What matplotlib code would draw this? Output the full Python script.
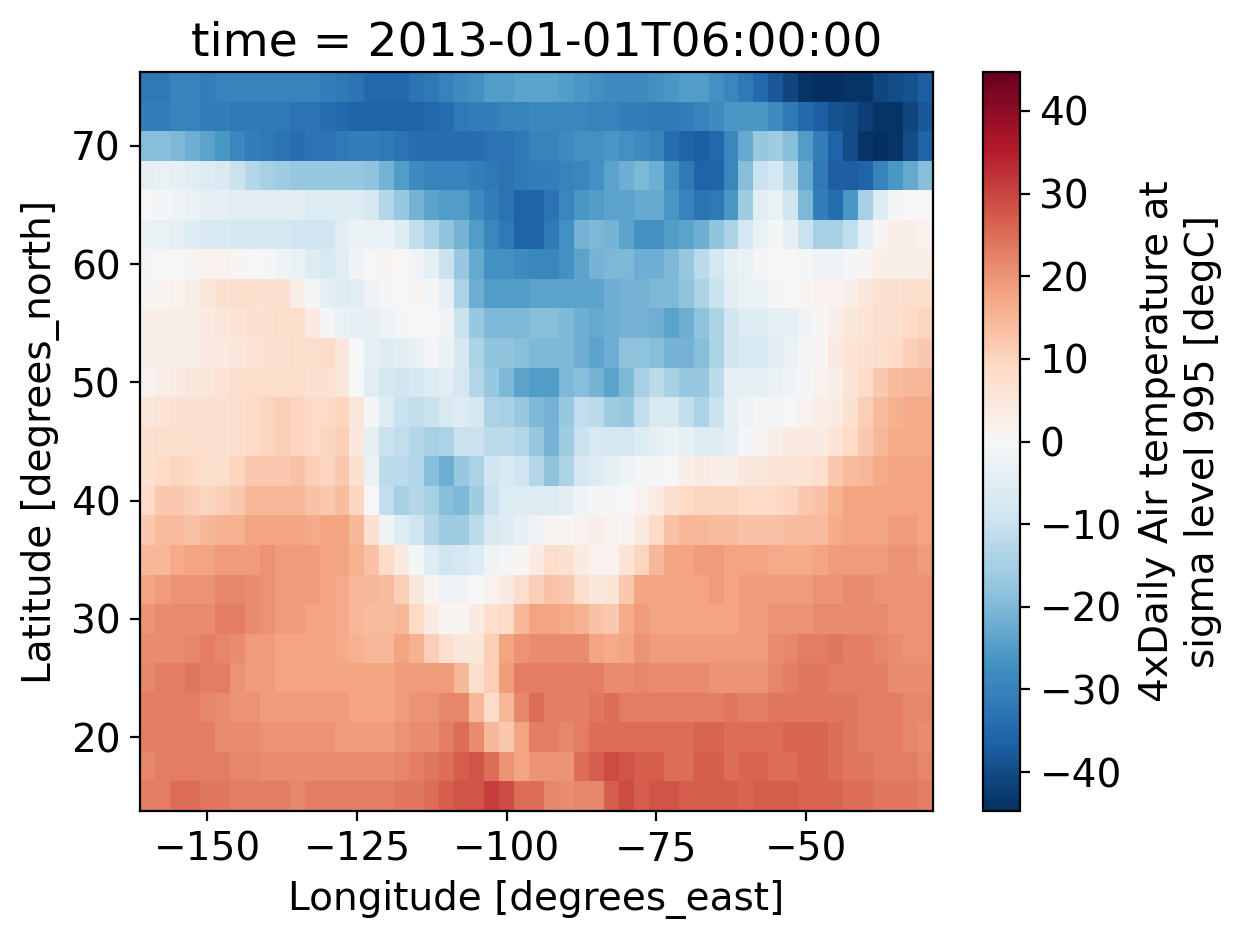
import numpy as np
import matplotlib
matplotlib.use("Agg")
import matplotlib.pyplot as plt

plt.rcParams['font.size'] = 14.05

lon = [-160 + 2.5 * i for i in range(53)]
lat = [75 - 2.5 * i for i in range(25)]
title = "time = 2013-01-01T06:00:00"
xlabel = "Longitude [degrees_east]"
ylabel = "Latitude [degrees_north]"
cbar_label = "4xDaily Air temperature at\nsigma level 995 [degC]"
xticks = [-150, -125, -100, -75, -50]
yticks = [20, 30, 40, 50, 60, 70]
cticks = [-40, -30, -20, -10, 0, 10, 20, 30, 40]
color_limit = 44.7

air = [
 [-32,-32,-30,-30,-31,-30,-30,-30,-30,-30,-30,-30,-31,-32,-33,-35,-35,-35,-33,-32,-30,-28,-27,-25,-25,-24, -24,-24,-25,-26,-27,-28,-28,-28,-27,-26,-25,-25,-27,-29,-32,-35,-38,-41,-44,-45,-45,-44,-44,-41,-40,-39,-37],
 [-31,-31,-30,-30,-31,-31,-32,-32,-32,-32,-33,-33,-34,-35,-36,-36,-36,-36,-36,-35,-34,-32,-31,-31,-30,-30, -29,-29,-29,-29,-30,-30,-31,-31,-32,-32,-31,-30,-28,-26,-26,-26,-28,-32,-35,-37,-39,-40,-42,-44,-44,-41,-38],
 [-19,-19,-20,-22,-24,-26,-29,-31,-32,-33,-34,-33,-33,-32,-31,-31,-32,-33,-34,-34,-34,-34,-34,-33,-33,-32, -30,-30,-28,-27,-27,-26,-27,-28,-30,-34,-36,-37,-35,-29,-23,-17,-16,-19,-25,-31,-36,-40,-44,-45,-44,-40,-36],
 [-4,-3,-4,-5,-6,-7,-10,-13,-15,-16,-17,-17,-17,-17,-17,-18,-21,-25,-28,-30,-30,-30,-31,-32,-33,-32, -31,-31,-30,-29,-27,-24,-22,-20,-22,-27,-32,-36,-36,-29,-19,-10,-8,-13,-23,-32,-37,-37,-36,-30,-26,-23,-19],
 [0,-1,-2,-3,-4,-4,-5,-5,-5,-5,-5,-6,-6,-6,-6,-8,-13,-17,-21,-24,-25,-25,-28,-31,-33,-36, -36,-33,-29,-26,-25,-24,-24,-23,-23,-26,-30,-33,-32,-26,-16,-5,-3,-9,-20,-31,-34,-26,-15,-6,-1,0,0],
 [-3,-3,-4,-6,-7,-7,-8,-8,-8,-8,-9,-9,-9,-5,-3,-3,-3,-6,-11,-14,-18,-21,-25,-29,-32,-36, -36,-32,-27,-21,-20,-21,-24,-27,-27,-25,-24,-22,-18,-14,-8,-3,-1,-4,-10,-15,-15,-11,-4,1,3,3,2],
 [-1,0,0,1,2,2,1,0,-1,-2,-3,-6,-7,-5,-2,0,1,0,-2,-4,-10,-17,-23,-27,-27,-28, -29,-29,-27,-24,-21,-20,-20,-22,-22,-20,-17,-12,-8,-4,-3,-1,0,0,-1,-2,-2,-1,1,3,3,3,3],
 [1,1,2,3,5,7,8,8,7,7,3,-1,-4,-6,-5,-2,-1,0,1,-1,-4,-14,-22,-25,-25,-25, -24,-24,-24,-24,-24,-22,-21,-21,-20,-20,-18,-14,-10,-5,-3,-3,-1,0,1,2,2,3,5,7,7,8,8],
 [3,3,3,3,4,5,6,7,7,8,8,4,-1,-3,-4,-4,-2,-1,0,0,-2,-10,-17,-20,-20,-20, -19,-19,-20,-22,-23,-22,-21,-21,-22,-24,-22,-18,-14,-9,-6,-6,-4,-4,-2,1,3,5,6,7,8,9,10],
 [3,3,3,3,4,4,5,6,7,7,8,8,9,5,0,-4,-6,-5,-3,-1,-3,-8,-14,-18,-18,-19, -20,-20,-20,-22,-24,-22,-18,-18,-19,-21,-21,-19,-14,-9,-7,-7,-5,-3,-1,1,4,6,7,8,9,11,12],
 [2,3,4,5,5,6,8,8,8,8,8,7,7,5,0,-5,-8,-9,-8,-6,-5,-8,-13,-17,-20,-24, -25,-25,-20,-19,-21,-24,-20,-15,-12,-15,-17,-17,-12,-4,-4,-4,-3,-2,-1,2,3,6,9,12,14,15,15],
 [5,6,7,7,7,7,8,9,10,11,10,9,9,10,5,-1,-6,-10,-11,-10,-7,-6,-8,-14,-15,-17, -20,-21,-17,-11,-12,-16,-17,-11,-7,-7,-11,-14,-10,-4,-2,-1,-1,0,2,3,4,7,11,14,16,17,17],
 [7,8,8,8,7,7,8,9,10,11,10,9,10,11,5,-4,-10,-11,-13,-15,-14,-10,-10,-12,-12,-13, -17,-21,-16,-10,-7,-8,-8,-6,-4,-3,-4,-6,-6,-4,-1,1,3,4,4,4,6,9,12,15,17,17,17],
 [7,9,10,9,8,8,10,12,12,12,13,11,10,12,7,-3,-12,-12,-13,-19,-22,-17,-14,-9,-7,-9, -13,-18,-14,-8,-6,-4,-2,-1,-1,0,3,4,3,3,5,5,6,6,6,8,12,14,15,17,18,18,18],
 [9,12,12,11,10,11,12,15,15,15,15,13,12,14,10,0,-11,-15,-13,-15,-19,-20,-16,-10,-6,-6, -6,-6,-5,-2,-1,-1,0,2,4,7,9,10,10,10,9,9,9,10,12,13,16,18,18,18,18,18,18],
 [12,14,14,13,15,16,16,18,18,18,18,17,18,18,15,7,-2,-6,-9,-13,-16,-16,-12,-7,-6,-4, -2,1,1,2,3,2,1,4,9,13,15,15,14,14,13,13,13,14,14,14,17,18,18,18,19,19,18],
 [15,15,17,18,18,19,19,19,20,19,19,19,18,18,16,13,9,4,-1,-6,-9,-8,-6,-2,-1,1, 4,8,7,4,2,2,6,10,15,18,18,19,19,18,18,18,17,17,17,18,19,19,19,19,20,20,19],
 [18,19,20,20,20,22,22,21,20,19,19,19,18,17,15,15,14,11,5,1,-2,-2,0,2,4,8, 11,13,12,8,5,6,12,18,18,18,18,18,19,18,19,19,19,19,19,20,20,21,21,20,20,20,20],
 [20,21,21,21,21,23,23,21,20,19,19,18,18,17,15,14,14,15,9,4,1,1,4,8,9,15, 18,18,17,16,13,12,17,19,18,18,18,18,18,18,19,19,20,20,20,21,21,21,21,21,20,20,20],
 [21,21,21,22,23,22,21,19,19,18,18,18,18,17,16,15,15,18,16,11,7,5,5,11,18,20, 21,21,21,21,18,17,18,20,19,19,19,19,19,19,19,19,21,22,23,23,24,23,23,22,21,20,20],
 [22,23,23,24,23,23,20,19,19,18,18,18,18,18,18,18,18,19,19,19,19,15,8,11,19,23, 23,23,23,23,23,21,21,22,21,21,21,21,20,20,20,20,22,23,24,24,23,23,23,23,21,21,21],
 [23,23,23,23,22,21,20,20,19,19,19,19,19,19,18,18,18,19,20,20,22,22,15,9,15,22, 25,23,23,23,24,25,23,23,23,23,23,23,23,24,23,23,24,24,24,24,24,24,23,23,23,22,22],
 [23,23,23,23,23,21,21,21,20,20,20,20,20,19,19,19,19,20,21,21,23,25,21,15,12,18, 23,23,22,23,25,25,25,25,25,25,25,26,26,25,25,25,25,26,26,26,25,24,23,23,23,22,21],
 [22,23,23,23,23,23,22,22,21,21,21,21,21,21,21,21,21,22,23,24,25,27,28,25,20,18, 20,20,20,25,27,29,28,27,27,25,25,27,27,25,26,26,25,25,26,26,25,24,24,23,23,23,22],
 [23,23,25,25,24,24,23,23,23,23,22,23,23,23,23,23,23,24,24,25,27,28,28,31,29,25, 25,22,21,22,22,27,29,27,28,28,27,27,27,27,26,27,27,27,26,26,26,25,25,24,24,24,23],
]

W, H = 1247, 940
fig = plt.figure(figsize=(W / 200, H / 200), dpi=200)
ax = fig.add_axes([140 / W, 1 - 811 / H, 793 / W, 739 / H])
cax = fig.add_axes([983 / W, 1 - 811 / H, 37 / W, 739 / H])

mesh = ax.pcolormesh(np.array(lon), np.array(lat), np.array(air, dtype=float),
                     cmap='RdBu_r', vmin=-color_limit, vmax=color_limit, shading='nearest')
ax.set_xticks(xticks)
ax.set_yticks(yticks)
ax.set_xlabel(xlabel)
ax.set_ylabel(ylabel)
ax.set_title(title, fontsize=17)
cb = fig.colorbar(mesh, cax=cax, ticks=cticks)
cb.set_label(cbar_label, labelpad=6, linespacing=1.25)

fig.savefig("out.png", dpi=200)
